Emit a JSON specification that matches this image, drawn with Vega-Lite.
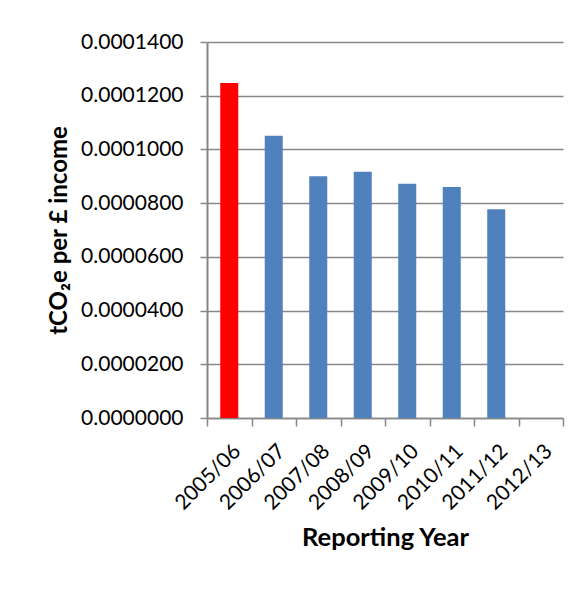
{
  "$schema": "https://vega.github.io/schema/vega-lite/v6.json",
  "width": 356,
  "height": 376,
  "autosize": {"type": "none"},
  "padding": {"left": 207, "top": 42, "right": 10, "bottom": 178},
  "background": "white",
  "config": {
    "font": "Lato",
    "view": {"stroke": null},
    "axis": {
      "labelColor": "black",
      "titleColor": "black",
      "domainColor": "#888888",
      "tickColor": "#888888",
      "gridColor": "#888888",
      "domainWidth": 1.5,
      "tickWidth": 1.5,
      "gridWidth": 1.5,
      "labelFontSize": 21,
      "titleFontSize": 25,
      "titleFontWeight": "bold"
    }
  },
  "data": {
    "values": [
      {"year": "2005/06", "value": 0.0001247, "group": "base"},
      {"year": "2006/07", "value": 0.0001051, "group": "other"},
      {"year": "2007/08", "value": 0.0000900, "group": "other"},
      {"year": "2008/09", "value": 0.0000917, "group": "other"},
      {"year": "2009/10", "value": 0.0000872, "group": "other"},
      {"year": "2010/11", "value": 0.0000860, "group": "other"},
      {"year": "2011/12", "value": 0.0000777, "group": "other"}
    ]
  },
  "mark": {"type": "bar", "width": {"band": 0.405}},
  "encoding": {
    "x": {
      "field": "year",
      "type": "nominal",
      "sort": null,
      "scale": {
        "domain": ["2005/06", "2006/07", "2007/08", "2008/09", "2009/10", "2010/11", "2011/12", "2012/13"],
        "paddingInner": 0,
        "paddingOuter": 0
      },
      "axis": {
        "title": "Reporting Year",
        "labelAngle": -45,
        "tickBand": "extent",
        "tickSize": 8,
        "labelPadding": 14,
        "titlePadding": 12,
        "titleFontSize": 25.5
      }
    },
    "y": {
      "field": "value",
      "type": "quantitative",
      "scale": {"domain": [0, 0.00014], "nice": false},
      "axis": {
        "values": [0, 0.00002, 0.00004, 0.00006, 0.00008, 0.0001, 0.00012, 0.00014],
        "format": ".7f",
        "title": "tCO₂e per £ income",
        "titleFontSize": 24,
        "grid": true,
        "domain": true,
        "domainColor": "#868686",
        "domainWidth": 2,
        "tickSize": 7,
        "labelPadding": 17,
        "titlePadding": 9
      }
    },
    "color": {
      "field": "group",
      "type": "nominal",
      "scale": {"domain": ["base", "other"], "range": ["#FF0000", "#4F81BD"]},
      "legend": null
    }
  }
}
